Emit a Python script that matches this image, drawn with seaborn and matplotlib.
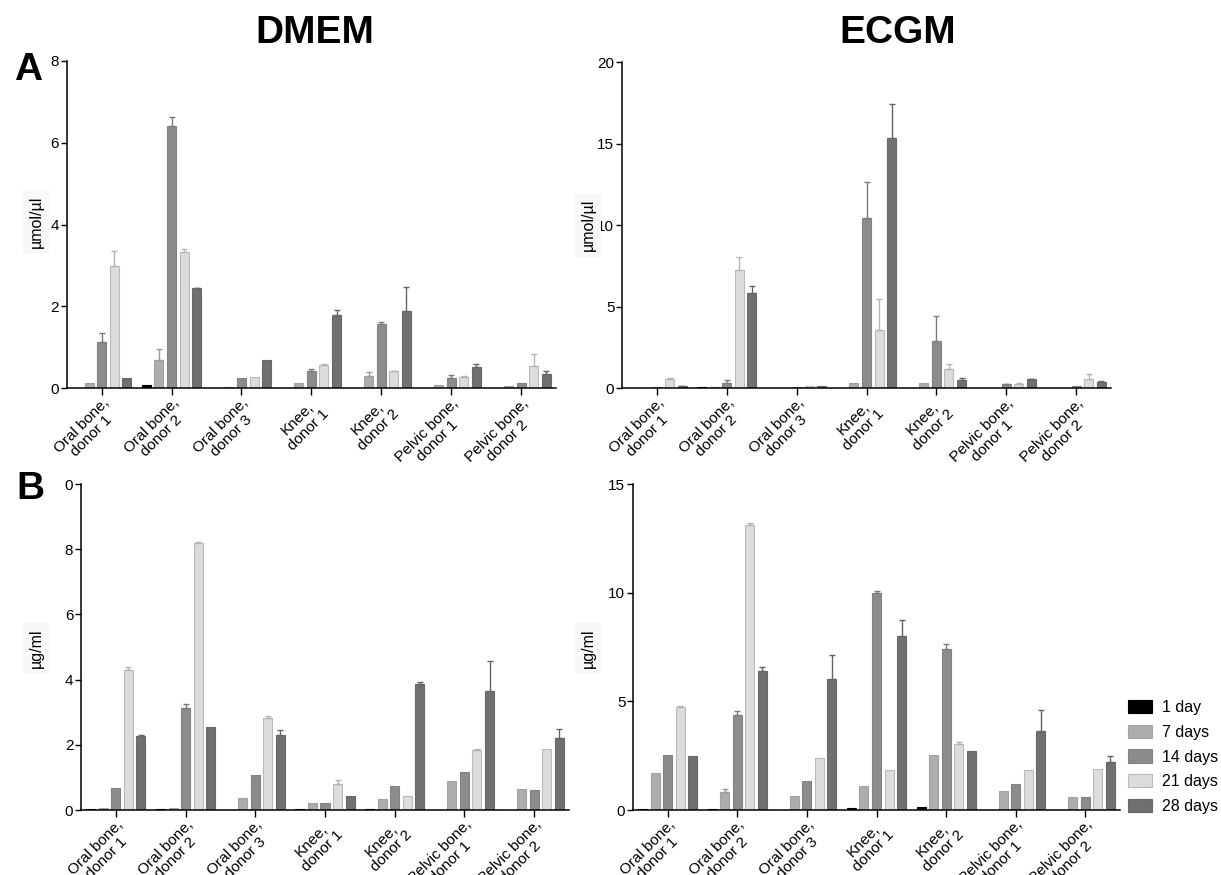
import numpy as np
import pandas as pd
import matplotlib
matplotlib.use("Agg")
import matplotlib.pyplot as plt
from matplotlib.container import BarContainer
from matplotlib.transforms import ScaledTranslation
import seaborn as sns

# ---------------- data ----------------
SITES = ["Oral bone,\ndonor 1", "Oral bone,\ndonor 2", "Oral bone,\ndonor 3",
         "Knee,\ndonor 1", "Knee,\ndonor 2", "Pelvic bone,\ndonor 1", "Pelvic bone,\ndonor 2"]
TIMES = ["1 day", "7 days", "14 days", "21 days", "28 days"]

# rows = time points, columns = sites
DMEM_A = [[0.00, 0.09, 0.00, 0.00, 0.01, 0.00, 0.00],
          [0.14, 0.68, 0.02, 0.14, 0.29, 0.07, 0.05],
          [1.12, 6.41, 0.26, 0.42, 1.57, 0.24, 0.14],
          [3.00, 3.32, 0.28, 0.58, 0.42, 0.28, 0.54],
          [0.24, 2.44, 0.70, 1.79, 1.90, 0.53, 0.34]]
DMEM_A_ERR = [[0, 0, 0, 0, 0, 0, 0],
              [0, 0.27, 0, 0, 0.11, 0, 0],
              [0.22, 0.21, 0, 0.04, 0.04, 0.09, 0],
              [0.35, 0.08, 0, 0.02, 0.01, 0.01, 0.29],
              [0, 0.02, 0, 0.12, 0.57, 0.07, 0.09]]

ECGM_A = [[0.02, 0.06, 0.00, 0.03, 0.04, 0.02, 0.00],
          [0.04, 0.08, 0.02, 0.30, 0.30, 0.04, 0.04],
          [0.10, 0.33, 0.10, 10.45, 2.88, 0.27, 0.12],
          [0.59, 7.24, 0.14, 3.55, 1.16, 0.29, 0.55],
          [0.12, 5.86, 0.14, 15.35, 0.51, 0.55, 0.37]]
ECGM_A_ERR = [[0, 0, 0, 0, 0, 0, 0],
              [0, 0, 0, 0, 0, 0, 0],
              [0, 0.16, 0, 2.20, 1.53, 0.02, 0],
              [0.06, 0.78, 0, 1.94, 0.31, 0.01, 0.31],
              [0.02, 0.43, 0, 2.10, 0.10, 0.05, 0.05]]

DMEM_B = [[0.02, 0.02, 0.00, 0.03, 0.02, 0.00, 0.00],
          [0.05, 0.05, 0.37, 0.20, 0.33, 0.90, 0.63],
          [0.67, 3.13, 1.06, 0.21, 0.74, 1.18, 0.62],
          [4.29, 8.20, 2.82, 0.80, 0.43, 1.83, 1.88],
          [2.26, 2.55, 2.30, 0.42, 3.87, 3.65, 2.20]]
DMEM_B_ERR = [[0, 0, 0, 0, 0, 0, 0],
              [0, 0, 0, 0, 0, 0, 0],
              [0, 0.12, 0, 0, 0, 0, 0],
              [0.11, 0.03, 0.05, 0.11, 0, 0.04, 0],
              [0.04, 0, 0.16, 0, 0.05, 0.91, 0.27]]

ECGM_B = [[0.05, 0.03, 0.00, 0.08, 0.15, 0.00, 0.00],
          [1.69, 0.83, 0.63, 1.12, 2.53, 0.89, 0.61],
          [2.52, 4.38, 1.35, 10.00, 7.42, 1.18, 0.61],
          [4.73, 13.13, 2.41, 1.84, 3.02, 1.84, 1.87],
          [2.50, 6.39, 6.05, 8.01, 2.70, 3.65, 2.20]]
ECGM_B_ERR = [[0, 0, 0, 0, 0, 0, 0],
              [0, 0.12, 0, 0, 0, 0, 0],
              [0, 0.16, 0, 0.07, 0.21, 0, 0],
              [0.05, 0.07, 0, 0, 0.10, 0, 0],
              [0, 0.21, 1.06, 0.71, 0, 0.93, 0.29]]

YTICKS_A_DMEM = [0, 2, 4, 6, 8]
YTICKS_A_ECGM = [0, 5, 10, 15, 20]
YTICKS_B_DMEM = [0, 2, 4, 6, 8, 10]
YTICKLABELS_B_DMEM = ["0", "2", "4", "6", "8", "0"]
YTICKS_B_ECGM = [0, 5, 10, 15]

# ---------------- style ----------------
FILL = ["#000000", "#adadad", "#8c8c8c", "#dcdcdc", "#707070"]
EDGE = ["#000000", "#a2a2a2", "#828282", "#bababa", "#686868"]
ERRC = ["#000000", "#9a9a9a", "#7c7c7c", "#b4b4b4", "#656565"]

sns.set_style("ticks")
plt.rcParams["font.family"] = ["Liberation Sans", "DejaVu Sans"]
plt.rcParams["text.color"] = "#000000"
plt.rcParams["axes.labelcolor"] = "#000000"
plt.rcParams["xtick.color"] = "#000000"
plt.rcParams["ytick.color"] = "#000000"

W, H = 1221, 875
fig = plt.figure(figsize=(W / 100, H / 100), dpi=100)


def add_ax(l, r, t, b):
    return fig.add_axes([l / W, 1 - b / H, (r - l) / W, (b - t) / H])


def panel(ax, vals, errs, yticks, ylim, yticklabels=None, legend=False):
    rows = []
    for ti, t in enumerate(TIMES):
        for si, s in enumerate(SITES):
            rows.append({"site": s, "time": t, "value": vals[ti][si]})
    df = pd.DataFrame(rows)
    sns.barplot(data=df, x="site", y="value", hue="time", order=SITES,
                hue_order=TIMES, palette=FILL, width=0.9, gap=0.28,
                errorbar=None, saturation=1, ax=ax, legend=legend,
                linewidth=0.8)
    bar_conts = [c for c in ax.containers if isinstance(c, BarContainer)]
    for ti, cont in enumerate(bar_conts):
        xs, ys, es = [], [], []
        for si, bar in enumerate(cont.patches):
            bar.set_edgecolor(EDGE[ti])
            e = errs[ti][si]
            if e > 0:
                xs.append(bar.get_x() + bar.get_width() / 2)
                ys.append(bar.get_height())
                es.append(e)
        if xs:
            ax.errorbar(xs, ys, yerr=[np.zeros(len(es)), es], fmt="none",
                        ecolor=ERRC[ti], elinewidth=1.0, capsize=2.2,
                        capthick=1.0, zorder=1)
    ax.set_xlim(-0.5, len(SITES) - 0.5)
    ax.set_ylim(*ylim)
    ax.set_yticks(yticks)
    if yticklabels is not None:
        ax.set_yticklabels(yticklabels)
    ax.set_xlabel("")
    ax.set_ylabel("")
    ax.set_xticks(range(len(SITES)))
    ax.set_xticklabels(SITES, rotation=45, ha="right", va="top",
                       rotation_mode="anchor", multialignment="center",
                       linespacing=1.05, fontsize=11)
    shift = ScaledTranslation(4 / 100, 0, fig.dpi_scale_trans)
    for lbl in ax.get_xticklabels():
        lbl.set_transform(lbl.get_transform() + shift)
    ax.tick_params(axis="y", labelsize=11, length=4, width=1.0, pad=1.5,
                   colors="#000000")
    ax.tick_params(axis="x", length=5, width=1.0, pad=0.5, colors="#000000")
    sns.despine(ax=ax)
    for sp in ("left", "bottom"):
        ax.spines[sp].set_linewidth(1.1)
        ax.spines[sp].set_color("#000000")
    ax.set_facecolor("white")


ax1 = add_ax(66.7, 556, 61, 388.3)
ax2 = add_ax(622, 1111, 62, 388.3)
ax3 = add_ax(81, 569, 484, 810)
ax4 = add_ax(633, 1120, 484, 810)

panel(ax1, DMEM_A, DMEM_A_ERR, YTICKS_A_DMEM, (0, 8))
panel(ax2, ECGM_A, ECGM_A_ERR, YTICKS_A_ECGM, (0, 20))
panel(ax3, DMEM_B, DMEM_B_ERR, YTICKS_B_DMEM, (0, 10), YTICKLABELS_B_DMEM)
panel(ax4, ECGM_B, ECGM_B_ERR, YTICKS_B_ECGM, (0, 15), legend=True)

leg = ax4.get_legend()
handles = leg.legend_handles
labels = [t.get_text() for t in leg.texts]
leg.remove()
for h, ec in zip(handles, EDGE):
    h.set_edgecolor(ec)
fig.legend(handles, labels, loc="upper left",
           bbox_to_anchor=(1128 / W, 1 - 700 / H), frameon=False,
           fontsize=11.5, handlelength=1.5, handleheight=0.9,
           handletextpad=0.65, labelspacing=0.6, borderpad=0,
           borderaxespad=0)

# titles and panel letters
fig.text(315 / W, 1 - 33 / H, "DMEM", ha="center", va="center",
         fontsize=28, fontweight="bold")
fig.text(898 / W, 1 - 33 / H, "ECGM", ha="center", va="center",
         fontsize=28, fontweight="bold")
fig.text(28 / W, 1 - 70 / H, "A", ha="center", va="center",
         fontsize=28, fontweight="bold")
fig.text(30 / W, 1 - 489 / H, "B", ha="center", va="center",
         fontsize=28, fontweight="bold")

# y labels
for (x, y, s) in [(36, 222, "µmol/µl"), (588, 225, "µmol/µl"),
                  (36, 648, "µg/ml"), (588, 648, "µg/ml")]:
    fig.text(x / W, 1 - y / H, s, ha="center", va="center", rotation=90,
             fontsize=11.5,
             bbox=dict(boxstyle="square,pad=0.35", facecolor="#f8f8f8",
                       edgecolor="none"))

fig.savefig("out.png", dpi=100, facecolor="white")
